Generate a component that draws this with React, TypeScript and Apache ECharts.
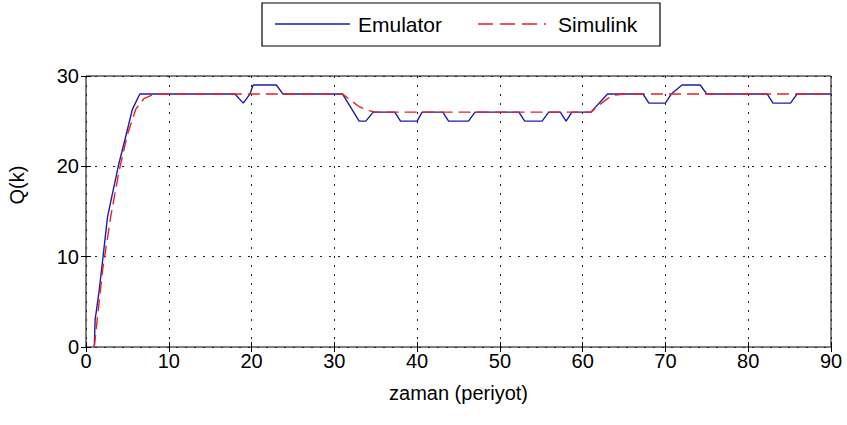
import React, { useEffect, useRef } from "react";
import * as echarts from "echarts";

const emulatorX = [1, 1.1, 1.6, 2, 2.6, 3.2, 4, 4.8, 5.6, 6.5, 7, 18, 19, 19.8, 20.2, 23, 23.8, 31, 33, 33.8, 34.7, 37.3, 38, 40, 40.6, 43.1, 43.8, 46.2, 47, 52.3, 53, 55.1, 55.9, 57.3, 58, 58.7, 61, 63, 67.3, 68, 70, 70.7, 72, 74.2, 75, 82.3, 83, 85.1, 85.9, 90];
const emulatorY = [0, 3, 6.3, 9.5, 14.4, 17, 20.4, 23.3, 26.3, 28, 28, 28, 27, 28, 29, 29, 28, 28, 25, 25, 26, 26, 25, 25, 26, 26, 25, 25, 26, 26, 25, 25, 26, 26, 25, 26, 26, 28, 28, 27, 27, 28, 29, 29, 28, 28, 27, 27, 28, 28];

const simulinkX = [1, 2, 3, 4, 5, 6, 7, 8, 9, 31, 32, 33, 34, 35, 61, 62, 63, 64, 65, 90];
const simulinkY = [0, 8.5, 14.5, 19.5, 23.5, 26.3, 27.5, 27.9, 28, 28, 27.3, 26.6, 26.2, 26, 26, 26.8, 27.5, 27.9, 28, 28];

const seriesNames = ["Emulator", "Simulink"];
const xAxisTitle = "zaman (periyot)";
const yAxisTitle = "Q(k)";

const FONT = "'Liberation Sans', Arial, sans-serif";
const BLUE = "#1c1ca8";
const RED = "#e5202a";

export default function App() {
  const ref = useRef<HTMLDivElement>(null);
  useEffect(() => {
    document.body.style.margin = "0";
    if (!ref.current) return;
    const chart = echarts.init(ref.current, undefined, { renderer: "svg" });
    const pair = (xs: number[], ys: number[]) => xs.map((x, i) => [x, ys[i]]);
    const gridLine = { show: true, lineStyle: { color: "#222", type: [2, 7] as any, width: 1 } };
    const hiddenAxisCommon = {
      axisLine: { show: false },
      axisLabel: { show: false },
      splitLine: { show: false },
      axisTick: { show: true, inside: true, length: 5, lineStyle: { color: "#000" } },
    };
    const legendY = 24;
    chart.setOption({
      animation: false,
      backgroundColor: "#fff",
      textStyle: { fontFamily: FONT },
      grid: {
        left: 86,
        right: 16,
        top: 76,
        bottom: 78,
        show: true,
        borderColor: "#000",
        borderWidth: 1,
        backgroundColor: "transparent",
      },
      xAxis: [
        {
          type: "value",
          min: 0,
          max: 90,
          interval: 10,
          name: xAxisTitle,
          nameLocation: "middle",
          nameGap: 36,
          nameTextStyle: { fontSize: 20, color: "#000", fontFamily: FONT },
          axisLine: { show: false },
          axisTick: { show: true, inside: true, length: 5, lineStyle: { color: "#000" } },
          axisLabel: { fontSize: 20, color: "#000", margin: 4, fontFamily: FONT },
          splitLine: gridLine,
        },
        { type: "value", min: 0, max: 90, interval: 10, position: "top", ...hiddenAxisCommon },
      ],
      yAxis: [
        {
          type: "value",
          min: 0,
          max: 30,
          interval: 10,
          axisLine: { show: false },
          axisTick: { show: true, inside: true, length: 5, lineStyle: { color: "#000" } },
          axisLabel: { fontSize: 20, color: "#000", margin: 7, fontFamily: FONT },
          splitLine: gridLine,
        },
        { type: "value", min: 0, max: 30, interval: 10, position: "right", ...hiddenAxisCommon },
      ],
      graphic: [
        {
          type: "text",
          x: 17,
          y: 185,
          rotation: Math.PI / 2,
          style: {
            text: yAxisTitle,
            fontSize: 20,
            fill: "#000",
            fontFamily: FONT,
            align: "center",
            verticalAlign: "middle",
          },
        },
        {
          type: "rect",
          shape: { x: 262, y: 3, width: 398, height: 43 },
          style: { fill: "#fff", stroke: "#000", lineWidth: 1.2 },
        },
        {
          type: "line",
          shape: { x1: 275, y1: legendY, x2: 350, y2: legendY },
          style: { stroke: BLUE, lineWidth: 1.4 },
        },
        {
          type: "text",
          x: 358,
          y: legendY,
          style: { text: seriesNames[0], fontSize: 21, fill: "#000", fontFamily: FONT, verticalAlign: "middle" },
        },
        {
          type: "line",
          shape: { x1: 478, y1: legendY, x2: 546, y2: legendY },
          style: { stroke: RED, lineWidth: 1.4, lineDash: [15, 7] },
        },
        {
          type: "text",
          x: 558,
          y: legendY,
          style: { text: seriesNames[1], fontSize: 21, fill: "#000", fontFamily: FONT, verticalAlign: "middle" },
        },
      ],
      series: [
        {
          name: seriesNames[0],
          type: "line",
          data: pair(emulatorX, emulatorY),
          showSymbol: false,
          symbol: "none",
          lineStyle: { color: BLUE, width: 1.4 },
          itemStyle: { color: BLUE },
          z: 3,
        },
        {
          name: seriesNames[1],
          type: "line",
          data: pair(simulinkX, simulinkY),
          showSymbol: false,
          symbol: "none",
          lineStyle: { color: RED, width: 1.4, type: [12, 6] },
          itemStyle: { color: RED },
          z: 4,
        },
      ],
    });
    return () => chart.dispose();
  }, []);
  return <div ref={ref} style={{ width: 847, height: 425 }} />;
}
